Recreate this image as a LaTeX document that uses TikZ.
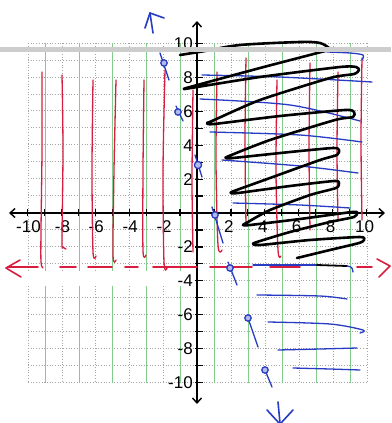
\documentclass[tikz,border=0pt]{standalone}
\usepackage{fontspec}
\setmainfont{Liberation Sans}
\usetikzlibrary{arrows.meta}
\definecolor{penred}{RGB}{215,30,65}
\definecolor{penblue}{RGB}{40,60,195}
\definecolor{gridgray}{RGB}{165,165,165}
\definecolor{gridgreen}{RGB}{130,205,140}
\definecolor{bandgray}{RGB}{205,205,205}
\tikzset{
  redpen/.style={draw=penred, line width=1.3pt, line cap=round, line join=round},
  bluepen/.style={draw=penblue, line width=1.3pt, line cap=round, line join=round},
  blackpen/.style={draw=black, line width=2.6pt, line cap=round, line join=round},
  gridh/.style={draw=gridgray, line width=0.7pt, dotted},
  gridve/.style={draw=gridgray, line width=0.7pt, dotted},
  gridvo/.style={draw=gridgreen, line width=0.6pt},
  axisline/.style={draw=black, line width=1.4pt},
  tickmark/.style={draw=black, line width=1.2pt},
  lab/.style={font=\fontsize{17}{17}\selectfont, inner sep=0pt},
  dotmark/.style={bluepen, fill=penblue!35}
}
\begin{document}
\begin{tikzpicture}[x=1pt,y=-1pt]
\useasboundingbox (0,0) rectangle (391,423);
\fill[white] (0,0) rectangle (391,423);
% grid
\foreach \i in {0,...,20} {
  \draw[gridh] (28,{43+16.95*\i}) -- (366,{43+16.95*\i});
}
\foreach \i in {0,2,...,20} {
  \draw[gridve] ({28+16.95*\i},43) -- ({28+16.95*\i},383);
}
\foreach \i in {1,3,...,19} {
  \draw[gridvo] ({28+16.95*\i},43) -- ({28+16.95*\i},383);
}
% erased strip under dashed line
\fill[white] (20,271) rectangle (194,286);
% axes
\draw[axisline, arrows={Straight Barb[length=5pt,width=9pt]-Straight Barb[length=5pt,width=9pt]}] (9,213) -- (385,213);
\draw[axisline, arrows={Straight Barb[length=5pt,width=9pt]-Straight Barb[length=5pt,width=9pt]}] (197,21) -- (197,404);
\foreach \i in {-10,...,-1,1,2,...,10} {
  \draw[tickmark] ({197+16.95*\i},209) -- ({197+16.95*\i},216);
  \draw[tickmark] (195,{213-16.95*\i}) -- (203,{213-16.95*\i});
}
% x labels
\foreach \v in {-10,-8,-6,-4,-2} {
  \node[lab] at ({198+16.95*\v},227) {\v};
}
\foreach \v in {2,4,6,8,10} {
  \node[lab] at ({195+16.95*\v},227) {\v};
}
% y labels
\foreach \v in {10,8,6,4,2,-2,-4,-6,-8,-10} {
  \node[lab, anchor=east] at (193,{213-16.95*\v}) {\v};
}
% red vertical pen lines (left)
\draw[redpen] plot[smooth] coordinates {(42,72) (42,150) (41,230) (41,262) (43,268)};
\draw[redpen] plot[smooth] coordinates {(62,75) (63,150) (62,240) (63,247) (66,249)};
\draw[redpen] plot[smooth] coordinates {(93,80) (92,170) (93,252) (96,256)};
\draw[redpen] plot[smooth] coordinates {(116,80) (114,170) (113,255) (116,260)};
\draw[redpen] plot[smooth] coordinates {(144,80) (143,170) (143,251) (146,255)};
\draw[redpen] plot[smooth] coordinates {(165,70) (163,170) (164,262) (167,268)};
\draw[redpen] plot[smooth] coordinates {(193,90) (192,180) (193,252)};
% red vertical pen lines (right)
\draw[redpen] plot[smooth] coordinates {(217,72) (216,160) (218,245) (222,250)};
\draw[redpen] plot[smooth] coordinates {(246,58) (245,140) (246,225)};
\draw[redpen] plot[smooth] coordinates {(277,80) (276,170) (278,250) (281,256)};
\draw[redpen] plot[smooth] coordinates {(310,63) (309,150) (310,230)};
\draw[redpen] plot[smooth] coordinates {(338,72) (337,150) (338,220)};
\draw[redpen] plot[smooth] coordinates {(362,58) (361,140) (362,220)};
% blue horizontal pen lines
\draw[bluepen] plot[smooth] coordinates {(327,52) (350,53) (363,55) (362,60)};
\draw[bluepen] plot[smooth] coordinates {(202,75) (280,77) (372,82)};
\draw[bluepen] plot[smooth] coordinates {(200,99) (290,105) (360,121)};
\draw[bluepen] plot[smooth] coordinates {(210,132) (300,135) (362,142)};
\draw[bluepen] plot[smooth] coordinates {(222,160) (300,166) (358,173)};
\draw[bluepen] plot[smooth] coordinates {(233,203) (300,205) (350,208)};
\draw[bluepen] plot[smooth] coordinates {(257,295) (320,296) (347,299)};
\draw[bluepen] plot[smooth] coordinates {(268,322) (330,324) (363,330) (360,333)};
\draw[bluepen] plot[smooth] coordinates {(278,350) (320,349) (357,348)};
\draw[bluepen] plot[smooth] coordinates {(293,368) (330,369) (360,370)};
% red dashed asymptote
\draw[redpen, line width=1.6pt] (20,260) -- (6,268) -- (21,277);
\foreach \a/\b in {8/38,60/76,88/112,125/138,153/197,210/252,270/300,357/372} {
  \draw[redpen, line width=1.8pt] (\a,267) -- (\b,267);
}
\draw[redpen, line width=1.6pt] (377,259) -- (390,266) -- (379,277);
\draw[bluepen] (253,265) -- (318,265);
\draw[blackpen, line width=1.8pt] (317,265) -- (347,266);
\draw[bluepen] (347,266) .. controls (352,267) .. (353,272);
% black scribble
\draw[blackpen] plot[smooth, tension=0.5] coordinates {(180,55) (205,51) (240,45) (300,42) (320,43) (329,48)};
\draw[blackpen] plot[smooth, tension=0.4] coordinates {
 (329,50) (260,68) (190,87) (184,89) (191,88) (260,77) (340,67) (356,67) (359,70) (354,74)
 (330,78) (260,100) (212,121) (207,123) (214,124) (280,116) (345,110) (354,112) (353,117)
 (335,120) (270,140) (229,156) (226,158) (233,158) (290,152) (333,148) (339,150) (337,155)
 (320,160) (270,178) (234,191) (231,193) (238,193) (290,186) (334,181) (339,183) (336,188)
 (310,195) (270,210) (248,222) (243,225) (250,225) (300,219) (352,212) (357,213) (354,217)
 (330,222) (290,232) (257,242) (253,244) (260,245) (310,240) (360,237) (364,240) (359,243)
 (330,250) (297,258)};
% blue points with tails
\draw[bluepen] (160,53) -- (169,80);
\draw[dotmark] (164,63) circle (3.2);
\draw[bluepen] (176,106) -- (183,121);
\draw[dotmark] (178,112) circle (3.2);
\draw[bluepen] (195,155) -- (202,177);
\draw[dotmark] (198,165) circle (3.6);
\draw[bluepen] (212,207) -- (223,243);
\draw[dotmark] (215,215) circle (3.2);
\draw[bluepen] (228,262) -- (237,285);
\draw[dotmark] (230,268) circle (3.2);
\draw[bluepen] (248,318) -- (258,347);
\draw[dotmark] (248,318) circle (3.2);
\draw[bluepen] (265,370) -- (272,387);
\draw[dotmark] (265,370) circle (3.2);
% blue arrow marks
\draw[bluepen, line width=1.6pt] (145,28) -- (150,13) -- (164,18);
\draw[bluepen, line width=1.6pt] (150,13) -- (153,33);
\draw[bluepen, line width=1.6pt] (267,410) -- (279,423);
\draw[bluepen, line width=1.6pt] (278,402) -- (280,423);
\draw[bluepen, line width=1.6pt] (293,410) -- (281,423);
% grey band across the top
\fill[bandgray] (0,46.5) rectangle (391,51.5);
\end{tikzpicture}
\end{document}
